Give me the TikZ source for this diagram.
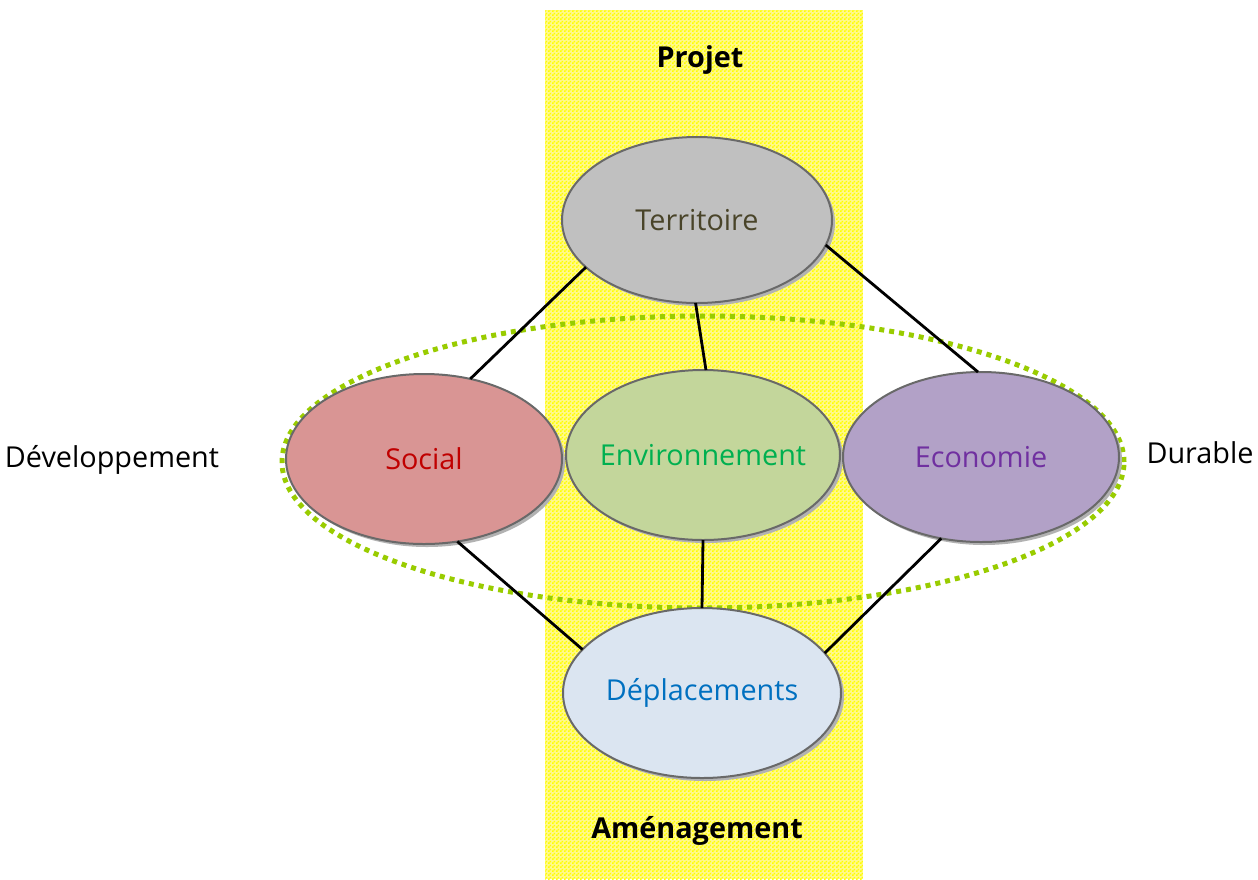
\documentclass[tikz,border=0pt]{standalone}
\usepackage{fontspec}
\setmainfont{Open Sans}
\usetikzlibrary{shapes.geometric,shadows,patterns}

\definecolor{terrfill}{RGB}{192,192,192}
\definecolor{socfill}{RGB}{217,149,148}
\definecolor{envfill}{RGB}{195,214,155}
\definecolor{ecofill}{RGB}{178,161,199}
\definecolor{depfill}{RGB}{219,229,241}
\definecolor{terrtext}{RGB}{73,68,41}
\definecolor{soctext}{RGB}{192,0,0}
\definecolor{envtext}{RGB}{0,176,80}
\definecolor{ecotext}{RGB}{112,48,160}
\definecolor{deptext}{RGB}{0,112,192}
\definecolor{rim}{RGB}{105,105,105}
\definecolor{devgreen}{RGB}{153,204,0}

\pgfdeclarepatternformonly{finechecker}{\pgfpointorigin}{\pgfqpoint{2pt}{2pt}}{\pgfqpoint{2pt}{2pt}}{%
  \pgfpathrectangle{\pgfpointorigin}{\pgfqpoint{1pt}{1pt}}%
  \pgfpathrectangle{\pgfqpoint{1pt}{1pt}}{\pgfqpoint{1pt}{1pt}}%
  \pgfusepath{fill}}

\begin{document}
\begin{tikzpicture}[x=0.5pt, y=-0.5pt,
                    bubble/.style={draw=rim, ellipse, line width=1pt, inner xsep=-14pt, inner ysep=0pt, outer sep=0pt,
                                   minimum width=138pt, minimum height=85pt, font=\Large,
                                   drop shadow={shadow xshift=1.5pt, shadow yshift=-1.5pt, fill=black!30, opacity=1}},
                    tag/.style={font=\Large\bfseries},
                    side/.style={font=\Large},
                    link/.style={line width=1.4pt}]
\useasboundingbox (0,0) rectangle (1258,879);

\fill[white] (0,0) rectangle (1258,879);
\fill[yellow!45] (545,10) rectangle (863,879);
\fill[pattern=finechecker, pattern color=yellow] (545,10) rectangle (863,879);

\node[draw=devgreen, ellipse, line width=2.5pt, dash pattern=on 2.5pt off 2.5pt,
      minimum width=421pt, minimum height=146pt] (dev) at (703,462) {};

\node [tag] (projet) at (700,60) {Projet};
\node [tag] (amenag) at (697,831) {Aménagement};
\node [side] (developp) at (112,460) {Développement};
\node [side] (durable) at (1200,453) {Durable};

\node [bubble, fill=terrfill, text=terrtext, minimum width=135pt, minimum height=83pt] (terr) at (697,220) {Territoire};
\node [bubble, fill=socfill, text=soctext] (soc) at (424,459) {Social};
\node [bubble, fill=envfill, text=envtext, minimum width=137pt] (env) at (703,455) {Environnement};
\node [bubble, fill=ecofill, text=ecotext] (eco) at (981,457) {Economie};
\node [bubble, fill=depfill, text=deptext, minimum width=139pt] (dep) at (702,693) {Déplacements};

\draw [link] (terr.203) -- (soc.60);
\draw [link] (terr.349) -- (eco.92);
\draw [link] (terr.269) -- (env.88);
\draw [link] (soc.292) -- (dep.160);
\draw [link] (eco.244) -- (dep.18);
\draw [link] (env.270) -- (dep.90);
\end{tikzpicture}
\end{document}
